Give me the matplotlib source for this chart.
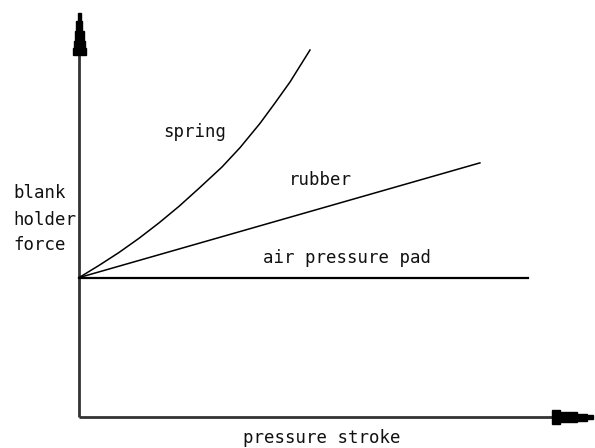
import numpy as np
import matplotlib.pyplot as plt
from matplotlib.patches import Polygon
from matplotlib.transforms import IdentityTransform

# in stroke / force units (axis arrow tips at 10)
spring_x = [0.0, 0.389, 0.778, 1.167, 1.556, 1.946, 2.335, 2.782,
            3.132, 3.521, 3.813, 4.105, 4.494]
spring_y = [3.45, 3.752, 4.072, 4.423, 4.804, 5.215, 5.661, 6.188,
            6.666, 7.267, 7.772, 8.292, 9.084]
rubber_x = [0.0, 7.80]
rubber_y = [3.45, 6.29]
air_x = [0.0, 8.74]
air_y = [3.45, 3.45]

labels = {"spring": (1.63, 6.93), "rubber": (4.09, 5.74),
          "air pressure pad": (3.58, 3.81)}
ylabel_lines = ["blank", "holder", "force"]
ylabel_base = [5.43, 4.76, 4.13]
xlabel = "pressure stroke"

W, H = 595, 448
fig = plt.figure(figsize=(W / 100, H / 100), dpi=100)
ax = fig.add_axes([79 / W, 31 / H, 514 / W, 404 / H])
ax.set_xlim(0, 10)
ax.set_ylim(0, 10)
ax.axis("off")

axis_col = "#333333"
ax.plot([0, 9.2], [0, 0], color=axis_col, lw=2, solid_capstyle="butt", clip_on=False)
ax.plot([0, 0], [0, 9.0], color=axis_col, lw=2, solid_capstyle="butt", clip_on=False)

ax.plot(spring_x, spring_y, color="black", lw=1.1, clip_on=False)
ax.plot(rubber_x, rubber_y, color="black", lw=1.1, clip_on=False)
ax.plot(air_x, air_y, color="black", lw=1.6, clip_on=False)

font = dict(family="DejaVu Sans Mono", size=12.5, color="#111111")
for txt, (x, y) in labels.items():
    ax.text(x, y, txt, ha="left", va="baseline", **font)
for txt, y in zip(ylabel_lines, ylabel_base):
    ax.text(-1.28, y, txt, ha="left", va="baseline", clip_on=False, **font)
ax.text(3.19, -0.64, xlabel, ha="left", va="baseline", clip_on=False, **font)

# stepped arrow heads, drawn in pixels from the axis tips
fig.canvas.draw()
tx, ty = ax.transData.transform((0, 10))
steps_v = [(0, 1.5), (8, 1.5), (8, 3), (18, 3), (18, 4.5), (28, 4.5),
           (28, 5.5), (35, 5.5), (35, 6.5), (42, 6.5)]
pts = [(tx + w, ty - d) for d, w in steps_v] + [(tx - w, ty - d) for d, w in steps_v[::-1]]
fig.add_artist(Polygon(pts, closed=True, color="black", transform=IdentityTransform()))

rx, ry = ax.transData.transform((10, 0))
steps_h = [(0, 2), (6, 2), (6, 3.5), (16, 3.5), (16, 5), (33, 5), (33, 7), (41, 7)]
pts = [(rx - d, ry + h) for d, h in steps_h] + [(rx - d, ry - h) for d, h in steps_h[::-1]]
fig.add_artist(Polygon(pts, closed=True, color="black", transform=IdentityTransform()))

fig.savefig("out.png", dpi=100)
